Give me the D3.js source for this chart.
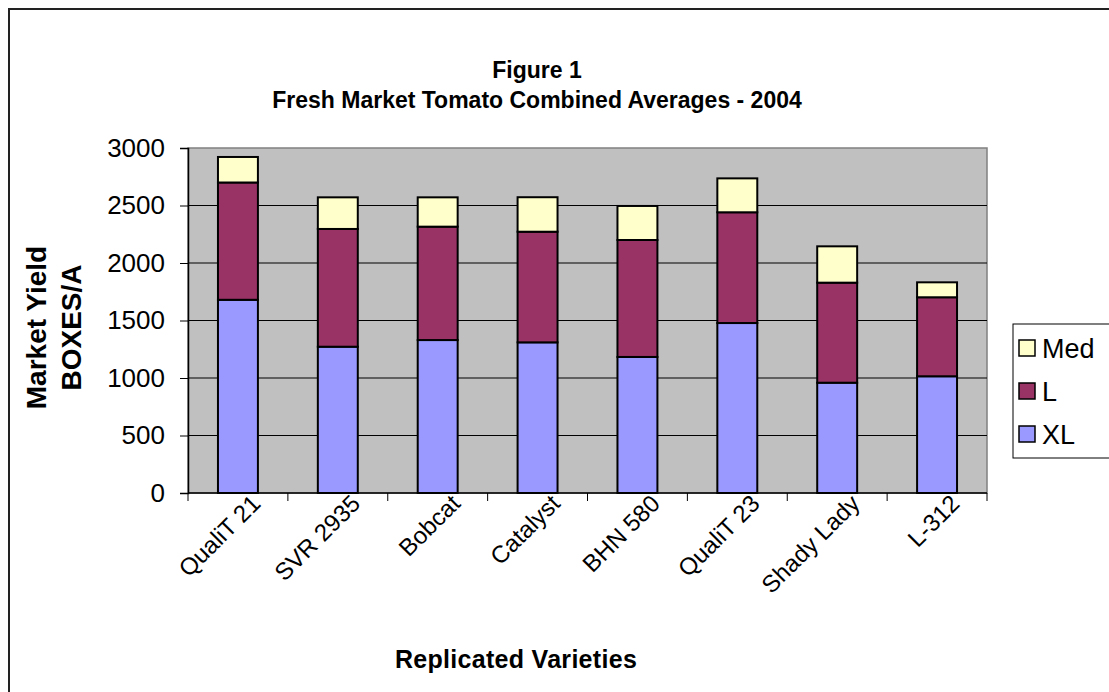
<!DOCTYPE html>
<html><head><meta charset="utf-8">
<script src="https://cdn.jsdelivr.net/npm/d3@7"></script>
<style>body{margin:0;background:#fff;} text{font-family:Arial,"Liberation Sans",sans-serif;}</style>
</head><body><svg id="c" width="1109" height="692"></svg>
<script>
const categories = ["QualiT 21","SVR 2935","Bobcat","Catalyst","BHN 580","QualiT 23","Shady Lady","L-312"];
const seriesNames = ["XL","L","Med"];
const XL  = [1680,1272,1330,1310,1183,1478,959,1015];
const L   = [1020,1024,986,962,1017,963,870,687];
const Med = [222,275,255,300,296,295,316,130];
const yTicks = [0,500,1000,1500,2000,2500,3000];
const colors = {XL:"#9999ff", L:"#993366", Med:"#ffffcc"};

const svg = d3.select("#c");
svg.append("rect").attr("width",1109).attr("height",692).attr("fill","#fff");
svg.append("rect").attr("x",9).attr("y",9).attr("width",1130).attr("height",720)
  .attr("fill","none").attr("stroke","#222").attr("stroke-width",2);

const pl=188, pr=987, pt=148, pb=493;
const x = d3.scaleBand().domain(categories).range([pl,pr]).paddingInner(0.6).paddingOuter(0.3);
const xb = d3.scaleBand().domain(categories).range([pl,pr]);
const y = d3.scaleLinear().domain([0,3000]).range([pb,pt]);

svg.append("rect").attr("x",pl).attr("y",pt).attr("width",pr-pl).attr("height",pb-pt)
  .attr("fill","#c0c0c0").attr("stroke","#808080").attr("stroke-width",1.5);

svg.append("g").selectAll("line").data(yTicks.filter(d=>d>0 && d<3000)).join("line")
  .attr("x1",pl).attr("x2",pr).attr("y1",d=>y(d)).attr("y2",d=>y(d))
  .attr("stroke","#000").attr("stroke-width",1);

const rows = categories.map((c,i)=>({cat:c, XL:XL[i], L:L[i], Med:Med[i]}));
const stack = d3.stack().keys(seriesNames)(rows);
svg.append("g").selectAll("g").data(stack).join("g")
  .attr("fill",d=>colors[d.key])
  .selectAll("rect").data(d=>d).join("rect")
  .attr("x",d=>x(d.data.cat)).attr("width",x.bandwidth())
  .attr("y",d=>y(d[1])).attr("height",d=>y(d[0])-y(d[1]))
  .attr("stroke","#000").attr("stroke-width",2);

// Y axis
const ya = svg.append("g").attr("transform",`translate(${pl},0)`)
  .call(d3.axisLeft(y).tickValues(yTicks).tickFormat(d3.format("d")).tickSize(8).tickPadding(15));
ya.select(".domain").attr("stroke","#000").attr("stroke-width",1.5);
ya.selectAll("text").attr("font-size",26).attr("fill","#000").attr("font-family","Arial,'Liberation Sans',sans-serif");

// X axis with ticks at boundaries
const xa = svg.append("g").attr("transform",`translate(0,${pb})`);
xa.append("line").attr("x1",pl).attr("x2",pr).attr("stroke","#000").attr("stroke-width",1.5);
const bounds = categories.map(c=>xb(c)).concat([pr]);
xa.selectAll(".tk").data(bounds).join("line").attr("class","tk")
  .attr("x1",d=>d).attr("x2",d=>d).attr("y1",0).attr("y2",8).attr("stroke","#000");
xa.selectAll(".lb").data(categories).join("text").attr("class","lb")
  .attr("transform",d=>`translate(${xb(d)+xb.bandwidth()/2+24},${12}) rotate(-45)`)
  .attr("text-anchor","end").attr("font-size",24).text(d=>d);

// titles
svg.append("text").attr("x",537).attr("y",78).attr("text-anchor","middle")
  .attr("font-size",23).attr("font-weight","bold").text("Figure 1");
svg.append("text").attr("x",537).attr("y",108).attr("text-anchor","middle")
  .attr("font-size",23).attr("font-weight","bold").text("Fresh Market Tomato Combined Averages - 2004");
svg.append("text").attr("x",516).attr("y",668).attr("text-anchor","middle")
  .attr("font-size",25).attr("font-weight","bold").attr("letter-spacing",0.3).text("Replicated Varieties");
const yt = svg.append("text").attr("transform",`translate(0,${(pt+pb)/2+7}) rotate(-90)`)
  .attr("text-anchor","middle").attr("font-size",28).attr("font-weight","bold");
yt.append("tspan").attr("x",0).attr("y",46).text("Market Yield");
yt.append("tspan").attr("x",0).attr("y",81).text("BOXES/A");

// legend
const lg = svg.append("g");
lg.append("rect").attr("x",1013).attr("y",324).attr("width",120).attr("height",134)
  .attr("fill","#fff").attr("stroke","#000").attr("stroke-width",1);
const legItems = ["Med","L","XL"];
lg.selectAll(".li").data(legItems).join("g").attr("class","li")
  .attr("transform",(d,i)=>`translate(1019,${348+i*43})`)
  .each(function(d){
    const g=d3.select(this);
    g.append("rect").attr("x",0).attr("y",-8).attr("width",16).attr("height",16)
      .attr("fill",colors[d]).attr("stroke","#000").attr("stroke-width",1.5);
    g.append("text").attr("x",23).attr("y",10).attr("font-size",27).text(d);
  });
</script></body></html>
